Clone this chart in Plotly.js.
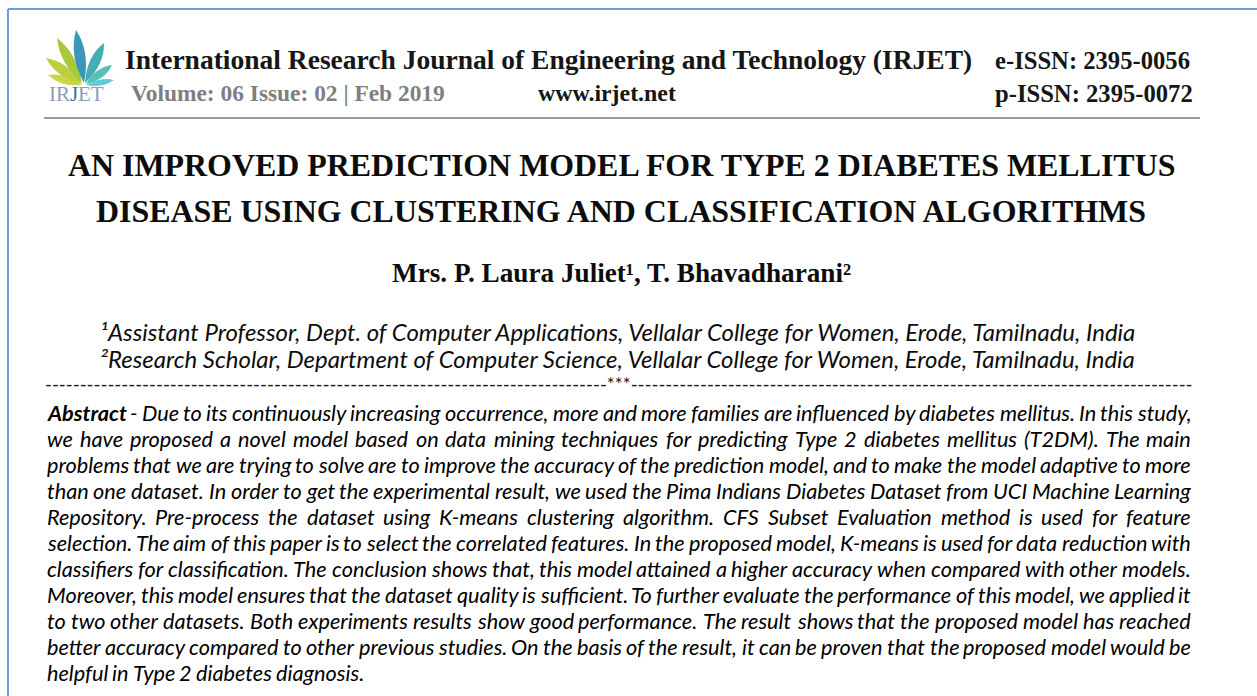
<!DOCTYPE html>
<html><head><meta charset="utf-8">
<script src="https://cdn.plot.ly/plotly-3.0.1.min.js"></script>
<style>html,body{margin:0;padding:0;background:#fff;overflow:hidden}</style>
</head><body>
<div id="chart" style="width:1257px;height:696px"></div>
<script>
// ---------- content ----------
const journalName = "International Research Journal of Engineering and Technology (IRJET)";
const eIssn = "e-ISSN: 2395-0056";
const pIssn = "p-ISSN: 2395-0072";
const volumeInfo = "Volume: 06 Issue: 02 | Feb 2019";
const website = "www.irjet.net";
const logoParts = ["IR", "J", "ET"];
const titleLines = [
  "AN IMPROVED PREDICTION MODEL FOR TYPE 2 DIABETES MELLITUS",
  "DISEASE USING CLUSTERING AND CLASSIFICATION ALGORITHMS"
];
const authorNames = ["Mrs. P. Laura Juliet", "T. Bhavadharani"];
const superscripts = ["\u00b9", "\u00b2"];
const affiliations = [
  "Assistant Professor, Dept. of Computer Applications, Vellalar College for Women, Erode, Tamilnadu, India",
  "Research Scholar, Department of Computer Science, Vellalar College for Women, Erode, Tamilnadu, India"
];
const separatorMark = "***";
const abstractLines = [
  "Abstract - Due to its continuously increasing occurrence, more and more families are influenced by diabetes mellitus. In this study,",
  "we have proposed a novel model based on data mining techniques for predicting Type 2 diabetes mellitus (T2DM). The main",
  "problems that we are trying to solve are to improve the accuracy of the prediction model, and to make the model adaptive to more",
  "than one dataset. In order to get the experimental result, we used the Pima Indians Diabetes Dataset from UCI Machine Learning",
  "Repository. Pre-process the dataset using K-means clustering algorithm. CFS Subset Evaluation method is used for feature",
  "selection. The aim of this paper is to select the correlated features. In the proposed model, K-means is used for data reduction with",
  "classifiers for classification. The conclusion shows that, this model attained a higher accuracy when compared with other models.",
  "Moreover, this model ensures that the dataset quality is sufficient. To further evaluate the performance of this model, we applied it",
  "to two other datasets. Both experiments results show good performance. The result shows that the proposed model has reached",
  "better accuracy compared to other previous studies. On the basis of the result, it can be proven that the proposed model would be",
  "helpful in Type 2 diabetes diagnosis."
];

// ---------- styling / layout helpers ----------
const SERIF = "Liberation Serif";
const SANS = "Lato";
const PAGE_W = 1257, PAGE_H = 696;
const cv = document.createElement('canvas').getContext('2d');
function tw(t, fam, size, weight, style) {
  cv.font = (style || 'normal') + ' ' + (weight || 'normal') + ' ' + size + 'px "' + fam + '"';
  return cv.measureText(t).width;
}
function fit(t, fam, width, weight, style) { return 100 * width / tw(t, fam, 100, weight, style); }
function wrapText(t, weight, style) {
  if (weight === 'bold') t = '<b>' + t + '</b>';
  if (style === 'italic') t = '<i>' + t + '</i>';
  return t;
}
const annotations = [];
function ann(text, x, y, size, fam, color, anchor) {
  annotations.push({text: text, x: x, y: y, xref: 'x', yref: 'y', xanchor: anchor || 'left',
    yanchor: 'middle', align: 'center', showarrow: false, borderpad: 0, borderwidth: 0,
    font: {family: fam, size: size, color: color}});
}

// header
const hdrSize = fit(journalName, SERIF, 848, 'bold');
ann(wrapText(journalName, 'bold'), 125, 59, hdrSize, SERIF, '#161616', 'left');
const issnSize = fit(eIssn, SERIF, 195, 'bold');
ann(wrapText(eIssn, 'bold'), 995, 60, issnSize, SERIF, '#161616', 'left');
ann(wrapText(pIssn, 'bold'), 995, 93, issnSize, SERIF, '#161616', 'left');
const volSize = fit(volumeInfo, SERIF, 314, 'bold');
ann(wrapText(volumeInfo, 'bold'), 131, 93, volSize, SERIF, '#7f7f7f', 'left');
ann(wrapText(website, 'bold'), 538, 93, fit(website, SERIF, 138, 'bold'), SERIF, '#161616', 'left');
const logoSize = fit(logoParts.join(''), SERIF, 55);
let lx = 76 - 27.5;
logoParts.forEach(function (p, i) {
  ann(p, lx, 94, logoSize, SERIF, i === 1 ? '#2f72b8' : '#8e9dbb', 'left');
  lx += tw(p, SERIF, logoSize);
});

// title
const titleSize = fit(titleLines[0], SERIF, 1110, 'bold');
ann(wrapText(titleLines[0], 'bold'), 621, 165, titleSize, SERIF, '#0d0d0d', 'center');
ann(wrapText(titleLines[1], 'bold'), 621, 211, titleSize, SERIF, '#0d0d0d', 'center');

// authors
const authText = authorNames[0] + superscripts[0] + ', ' + authorNames[1] + superscripts[1];
const authSize = fit(authText, SERIF, 460, 'bold');
ann(wrapText(authText, 'bold'), 621, 273, authSize, SERIF, '#0d0d0d', 'center');

// affiliations
const affSize = fit(superscripts[0] + affiliations[0], SANS, 1040, 'normal', 'italic');
affiliations.forEach(function (a, i) {
  ann(wrapText(superscripts[i] + a, 'normal', 'italic'), 617, 331 + i * 27, affSize, SANS, '#0d0d0d', 'center');
});

// separator line
const sepSize = affSize * 0.78;
const dashW = tw('-', SANS, sepSize), starW = tw(separatorMark, SANS, sepSize);
const nDash = Math.round((1145 - starW) / (2 * dashW));
const dashes = '-'.repeat(nDash);
ann(dashes + separatorMark + dashes, 619, 384, sepSize, SANS, '#1a1a1a', 'center');

// abstract, justified word by word
const ABS_L = 47, ABS_R = 1191, ABS_TOP = 413, ABS_GAP = 26;
function wordWeight(li, wi) { return (li === 0 && wi === 0) ? 'bold' : 'normal'; }
let bodySize = 100;
abstractLines.slice(0, -1).forEach(function (ln, li) {
  const ws = ln.split(' ');
  let natural = 0;
  ws.forEach(function (w, wi) { natural += tw(w, SANS, 100, wordWeight(li, wi), 'italic'); });
  natural += (ws.length - 1) * tw(' ', SANS, 100, 'normal', 'italic') * 0.8;
  bodySize = Math.min(bodySize, 100 * (ABS_R - ABS_L) / natural);
});
abstractLines.forEach(function (ln, li) {
  const words = ln.split(' ');
  const widths = words.map(function (w, wi) { return tw(w, SANS, bodySize, wordWeight(li, wi), 'italic'); });
  const sum = widths.reduce(function (a, b) { return a + b; }, 0);
  const isLast = li === abstractLines.length - 1;
  const gap = isLast ? tw(' ', SANS, bodySize, 'normal', 'italic') * 0.8 : (ABS_R - ABS_L - sum) / (words.length - 1);
  let x = ABS_L;
  words.forEach(function (w, wi) {
    ann(wrapText(w, wordWeight(li, wi), 'italic'), x, ABS_TOP + li * ABS_GAP, bodySize, SANS, '#000000', 'left');
    x += widths[wi] + gap;
  });
});

// ---------- decoration shapes ----------
const shapes = [];
function addLine(x0, y0, x1, y1, color, width) {
  shapes.push({type: 'line', xref: 'x', yref: 'y', x0: x0, y0: y0, x1: x1, y1: y1, line: {color: color, width: width}});
}
addLine(8, 9, 1257, 9, '#6b9fd6', 2);
addLine(8, 9, 8, 696, '#6b9fd6', 2);
addLine(44, 118, 1200, 118, '#9a9a9a', 2);

function leaf(bx, by, tx, ty, wd, color) {
  const dx = tx - bx, dy = ty - by, len = Math.hypot(dx, dy);
  const nx = -dy / len * wd, ny = dx / len * wd;
  const mx = bx + dx * 0.55, my = by + dy * 0.55;
  const p = 'M ' + bx + ' ' + by + ' Q ' + (mx + nx) + ' ' + (my + ny) + ' ' + tx + ' ' + ty +
            ' Q ' + (mx - nx) + ' ' + (my - ny) + ' ' + bx + ' ' + by + ' Z';
  shapes.push({type: 'path', xref: 'x', yref: 'y', path: p, fillcolor: color, line: {width: 0}, layer: 'above'});
}
leaf(82, 85, 48, 75, 8, '#c9d64c');
leaf(82, 84, 46, 58, 10, '#bccf3e');
leaf(82, 83, 57, 38, 10, '#a9c83c');
leaf(84, 83, 76, 30, 11, '#3b97b9');
leaf(85, 83, 104, 43, 10, '#43aeb5');
leaf(86, 84, 112, 65, 8, '#58c0b8');
leaf(86, 85, 114, 80, 6, '#62c8dc');

Plotly.newPlot('chart', [{type: 'scatter', x: [], y: [], hoverinfo: 'skip', showlegend: false}], {
  width: PAGE_W, height: PAGE_H, margin: {l: 0, r: 0, t: 0, b: 0, pad: 0},
  paper_bgcolor: '#ffffff', plot_bgcolor: '#ffffff', showlegend: false,
  xaxis: {range: [0, PAGE_W], visible: false, fixedrange: true},
  yaxis: {range: [PAGE_H, 0], visible: false, fixedrange: true},
  annotations: annotations, shapes: shapes
}, {staticPlot: true, displayModeBar: false});
</script>
</body></html>
